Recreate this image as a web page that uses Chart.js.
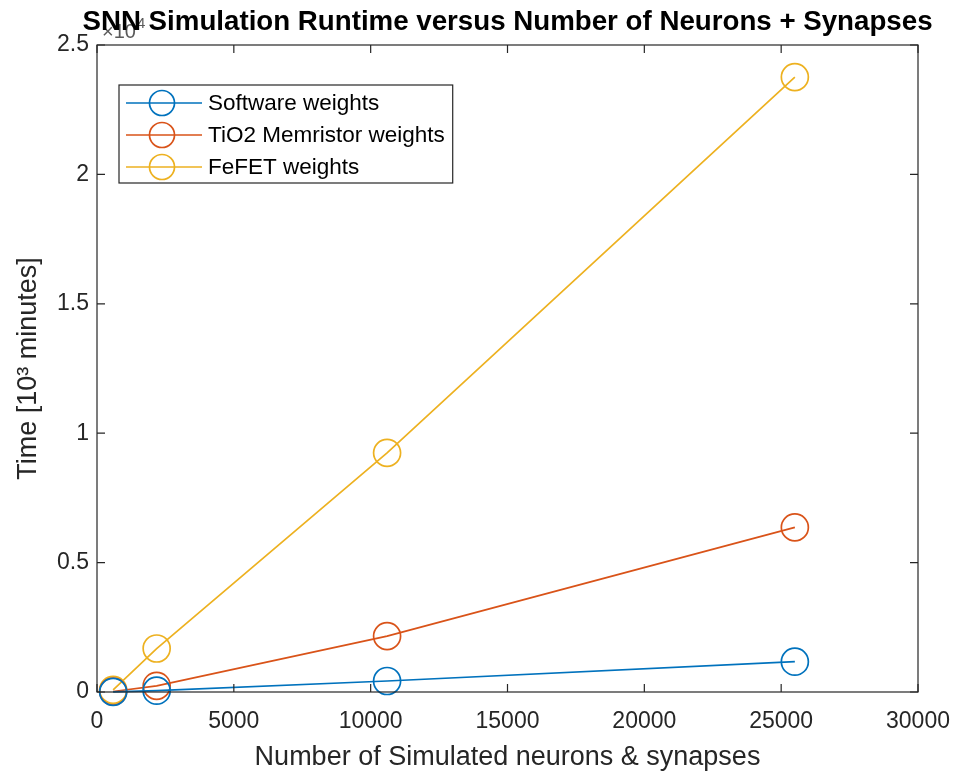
<!DOCTYPE html>
<html>
<head>
<meta charset="utf-8">
<script src="https://cdn.jsdelivr.net/npm/chart.js@4.4.0/dist/chart.umd.min.js"></script>
<style>
  html, body { margin: 0; padding: 0; background: #fff; }
  #wrap { width: 956px; height: 774px; }
</style>
</head>
<body>
<div id="wrap"><canvas id="runtime-chart" width="956" height="774"></canvas></div>
<script>
// network size (neurons + synapses)
const sizes = [590, 2180, 10600, 25500];
// runtime, axis units of 10^4
const softwareTime = [0.0005, 0.005, 0.0425, 0.117];
const tio2Time = [0.002, 0.024, 0.216, 0.636];
const fefetTime = [0.008, 0.168, 0.924, 2.376];

const seriesNames = ['Software weights', 'TiO2 Memristor weights', 'FeFET weights'];
const colors = ['#0072BD', '#D95319', '#EDB120'];
const xTicks = [0, 5000, 10000, 15000, 20000, 25000, 30000];
const yTicks = [0, 0.5, 1, 1.5, 2, 2.5];

const axisColor = '#262626';
const fontFamily = '"Liberation Sans", Arial, sans-serif';

function toPoints(ys) {
  return sizes.map((x, i) => ({ x: x, y: ys[i] }));
}

// box around the axes with inward ticks on every side
const boxPlugin = {
  id: 'matlabBox',
  afterDraw(chart) {
    const { ctx, chartArea: a, scales } = chart;
    ctx.save();
    ctx.strokeStyle = axisColor;
    ctx.lineWidth = 1.2;
    ctx.strokeRect(a.left, a.top, a.right - a.left, a.bottom - a.top);
    const len = 8;
    ctx.beginPath();
    xTicks.forEach(v => {
      const px = scales.x.getPixelForValue(v);
      ctx.moveTo(px, a.bottom); ctx.lineTo(px, a.bottom - len);
      ctx.moveTo(px, a.top); ctx.lineTo(px, a.top + len);
    });
    yTicks.forEach(v => {
      const py = scales.y.getPixelForValue(v);
      ctx.moveTo(a.left, py); ctx.lineTo(a.left + len, py);
      ctx.moveTo(a.right, py); ctx.lineTo(a.right - len, py);
    });
    ctx.stroke();
    ctx.restore();
  }
};

// exponent label and title on top
const titlePlugin = {
  id: 'titleAndExponent',
  afterDraw(chart) {
    const { ctx, chartArea: a } = chart;
    ctx.save();
    ctx.fillStyle = '#5a5a5a';
    ctx.textBaseline = 'alphabetic';
    ctx.textAlign = 'left';
    ctx.font = '20px ' + fontFamily;
    ctx.fillText('\u00d710', a.left + 5, 38);
    const w = ctx.measureText('\u00d710').width;
    ctx.font = '15px ' + fontFamily;
    ctx.fillText('4', a.left + 5 + w + 1, 28);

    ctx.fillStyle = '#000';
    ctx.textAlign = 'center';
    ctx.font = 'bold 27.7px ' + fontFamily;
    ctx.fillText('SNN Simulation Runtime versus Number of Neurons + Synapses', (a.left + a.right) / 2, 30);
    ctx.restore();
  }
};

// legend in the upper left corner of the axes
const legendPlugin = {
  id: 'boxLegend',
  afterDraw(chart) {
    const { ctx, chartArea: a } = chart;
    const x0 = a.left + 22, y0 = a.top + 40;
    const rowH = 32;
    ctx.save();
    ctx.font = '22.5px ' + fontFamily;
    const textW = Math.max(...seriesNames.map(n => ctx.measureText(n).width));
    const boxW = 89 + textW + 8;
    const boxH = rowH * seriesNames.length + 2;
    ctx.fillStyle = '#fff';
    ctx.fillRect(x0, y0, boxW, boxH);
    ctx.strokeStyle = axisColor;
    ctx.lineWidth = 1.2;
    ctx.strokeRect(x0, y0, boxW, boxH);
    seriesNames.forEach((name, i) => {
      const cy = y0 + 18 + i * rowH;
      ctx.strokeStyle = colors[i];
      ctx.lineWidth = 1.7;
      ctx.beginPath();
      ctx.moveTo(x0 + 7, cy); ctx.lineTo(x0 + 83, cy);
      ctx.stroke();
      ctx.beginPath();
      ctx.arc(x0 + 43, cy, 12.5, 0, Math.PI * 2);
      ctx.stroke();
      ctx.fillStyle = '#000';
      ctx.textBaseline = 'middle';
      ctx.textAlign = 'left';
      ctx.fillText(name, x0 + 89, cy + 1);
    });
    ctx.restore();
  }
};

const allTimes = [softwareTime, tio2Time, fefetTime];

new Chart(document.getElementById('runtime-chart').getContext('2d'), {
  type: 'line',
  data: {
    datasets: allTimes.map((ys, i) => ({
      label: seriesNames[i],
      data: toPoints(ys),
      borderColor: colors[i],
      backgroundColor: 'rgba(0,0,0,0)',
      borderWidth: 1.7,
      pointRadius: 13.5,
      pointBorderWidth: 1.7,
      pointBorderColor: colors[i],
      pointBackgroundColor: 'rgba(0,0,0,0)',
      tension: 0,
      clip: false
    }))
  },
  options: {
    responsive: false,
    animation: false,
    layout: { padding: { top: 45, right: 38, left: 0, bottom: 0 } },
    plugins: {
      legend: { display: false },
      tooltip: { enabled: false },
      title: { display: false }
    },
    scales: {
      x: {
        type: 'linear',
        min: 0,
        max: 30000,
        afterBuildTicks: scale => { scale.ticks = xTicks.map(v => ({ value: v })); },
        afterFit: scale => {
          scale.height = 82;
          scale.paddingLeft = 0;
          scale.paddingRight = 0;
        },
        grid: { display: false, drawTicks: false },
        border: { display: false },
        ticks: {
          color: axisColor,
          font: { family: fontFamily, size: 23 },
          padding: 16,
          maxRotation: 0,
          callback: v => String(v)
        },
        title: {
          display: true,
          text: 'Number of Simulated neurons & synapses',
          color: axisColor,
          font: { family: fontFamily, size: 27 },
          padding: { top: 0, bottom: 0 }
        }
      },
      y: {
        min: 0,
        max: 2.5,
        afterBuildTicks: scale => { scale.ticks = yTicks.map(v => ({ value: v })); },
        afterFit: scale => {
          scale.width = 97;
          scale.paddingTop = 0;
          scale.paddingBottom = 0;
        },
        grid: { display: false, drawTicks: false },
        border: { display: false },
        ticks: {
          color: axisColor,
          font: { family: fontFamily, size: 23 },
          padding: 8,
          callback: v => String(v)
        },
        title: {
          display: true,
          text: 'Time [10\u00b3 minutes]',
          color: axisColor,
          font: { family: fontFamily, size: 27 },
          padding: { top: 12, bottom: 0 }
        }
      }
    }
  },
  plugins: [boxPlugin, legendPlugin, titlePlugin]
});
</script>
</body>
</html>
